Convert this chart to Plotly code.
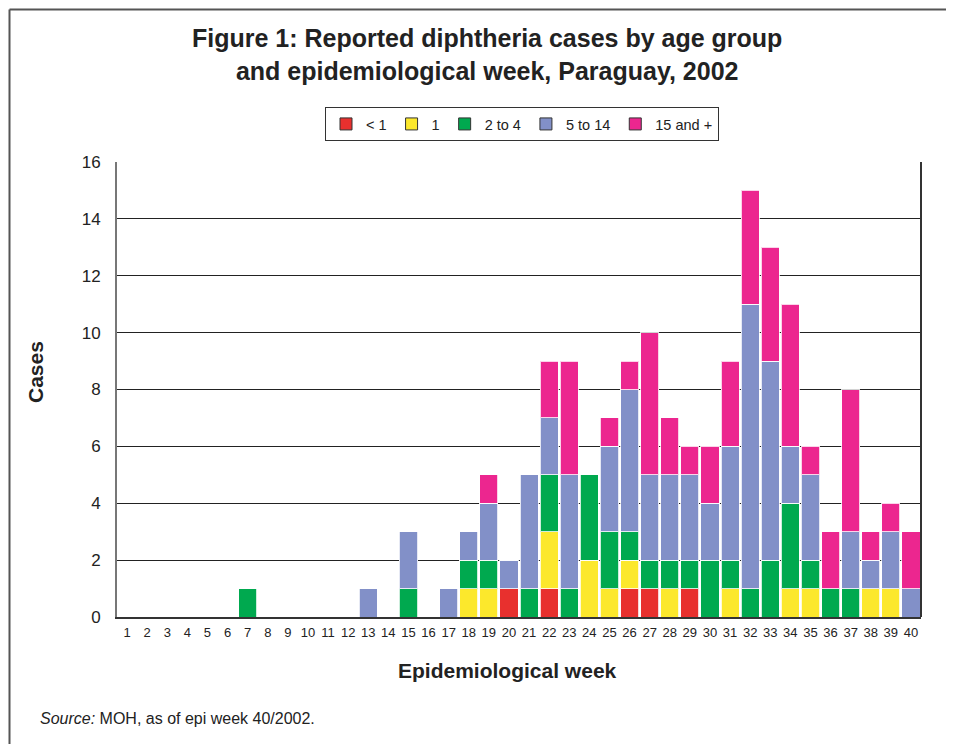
import plotly.graph_objects as go

weeks = list(range(1, 41))
# values per week 1..40
lt1 = [0]*19 + [1, 0, 1, 0, 0, 0, 1, 1, 0, 1, 0, 0, 0, 0, 0, 0, 0, 0, 0, 0, 0, 0]
one = [0]*17 + [1, 1, 0, 0, 2, 0, 2, 1, 1, 0, 1, 0, 0, 1, 0, 0, 1, 1, 0, 0, 1, 1, 0]
two_four = [0, 0, 0, 0, 0, 0, 1, 0, 0, 0, 0, 0, 0, 0, 1, 0, 0, 1, 1, 0,
            1, 2, 1, 3, 2, 1, 1, 1, 1, 2, 1, 1, 2, 3, 1, 1, 1, 0, 0, 0]
five_14 = [0, 0, 0, 0, 0, 0, 0, 0, 0, 0, 0, 0, 1, 0, 2, 0, 1, 1, 2, 1,
           4, 2, 4, 0, 3, 5, 3, 3, 3, 2, 4, 10, 7, 2, 3, 0, 2, 1, 2, 1]
fifteen = [0]*18 + [1, 0, 0, 2, 4, 0, 1, 1, 5, 2, 1, 2, 3, 4, 4, 5, 1, 2, 5, 1, 1, 2]

series_names = ["< 1", "1", "2 to 4", "5 to 14", "15 and +"]
series_vals = [lt1, one, two_four, five_14, fifteen]
colors = ["#E8302E", "#FCE82C", "#00A94F", "#8290C8", "#EC268F"]

# first (zero-height, not drawn) bar carries the dark outline used by the legend swatch
line_colors = ["#333333"] + ["rgba(255,255,255,0.8)"] * (len(weeks) - 1)

fig = go.Figure()
for name, vals, c in zip(series_names, series_vals, colors):
    fig.add_trace(go.Bar(
        x=weeks, y=vals, name=name,
        marker=dict(color=c, line=dict(color=line_colors, width=1)),
    ))

OFF = 8  # page body margin
W, H = 954, 744
# target plot area in screen coords: x 117..921, y 162..617
L, R, T, B = 117 - OFF, W - (921 - OFF), 162 - OFF, H - (617 - OFF)
pw, ph = W - L - R, H - T - B

def px(x):
    return (x - OFF - L) / pw

def py(y):
    return (H - B - (y - OFF)) / ph

font = "Arial, Liberation Sans, sans-serif"

fig.update_layout(
    width=W, height=H,
    margin=dict(l=L, r=R, t=T, b=B, pad=0),
    barmode="stack", bargap=0.1,
    paper_bgcolor="white", plot_bgcolor="white",
    font=dict(family=font, color="#222"),
    showlegend=True,
    legend=dict(orientation="h", x=px(522), y=py(124), xanchor="center", yanchor="middle",
                bordercolor="#333", borderwidth=1, font=dict(size=14.5, color="#222"),
                itemwidth=30, traceorder="normal", tracegroupgap=0,
                bgcolor="white"),
    xaxis=dict(tickmode="array", tickvals=weeks, ticktext=[str(w) for w in weeks],
               range=[0.5, 40.5], showgrid=False, showline=True, linecolor="#333",
               linewidth=2, ticks="", tickfont=dict(size=13, color="#222"),
               zeroline=False, mirror=False, ticklabelstandoff=2),
    yaxis=dict(range=[0, 16], dtick=2, showgrid=True, gridcolor="#222", gridwidth=1,
               showline=True, linecolor="#777", linewidth=2, ticks="",
               tickfont=dict(size=17, color="#222"), zeroline=False,
               ticklabelstandoff=11),
)

# right border of the plot area
fig.add_shape(type="line", xref="paper", yref="paper", x0=1, x1=1, y0=0, y1=1,
              line=dict(color="#333", width=2))
# outer frame (top and left visible)
fig.add_shape(type="line", xref="paper", yref="paper", x0=px(9.5), x1=px(9.5),
              y0=py(800), y1=py(9.5), line=dict(color="#555", width=2))
fig.add_shape(type="line", xref="paper", yref="paper", x0=px(9.5), x1=px(1000),
              y0=py(9.5), y1=py(9.5), line=dict(color="#555", width=2))

fig.add_annotation(text="<b>Figure 1: Reported diphtheria cases by age group<br>and epidemiological week, Paraguay, 2002</b>",
                   xref="paper", yref="paper", x=px(487), y=py(55), xanchor="center", yanchor="middle",
                   showarrow=False, font=dict(size=25, color="#222"), align="center")
fig.add_annotation(text="<b>Cases</b>", xref="paper", yref="paper", x=px(35), y=py(372),
                   textangle=-90, showarrow=False, font=dict(size=21, color="#222"),
                   xanchor="center", yanchor="middle")
fig.add_annotation(text="<b>Epidemiological week</b>", xref="paper", yref="paper", x=px(507), y=py(670),
                   showarrow=False, font=dict(size=21, color="#222"), xanchor="center", yanchor="middle")
fig.add_annotation(text="<i>Source:</i> MOH, as of epi week 40/2002.", xref="paper", yref="paper",
                   x=px(38), y=py(718), showarrow=False, font=dict(size=16, color="#222"),
                   xanchor="left", yanchor="middle")

fig.write_html("out.html")
